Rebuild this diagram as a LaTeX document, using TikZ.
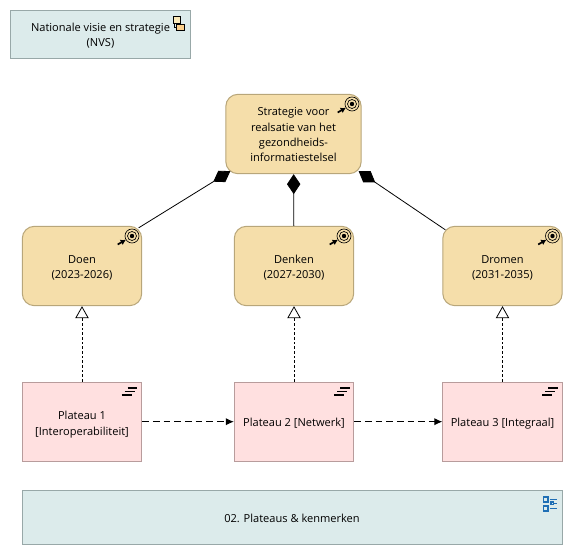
\documentclass[tikz,border=0pt]{standalone}
\usepackage{fontspec}
\setmainfont{Open Sans}
\usetikzlibrary{arrows.meta}
\definecolor{goalfill}{HTML}{F5DEAA}
\definecolor{goalline}{HTML}{B8A67A}
\definecolor{plateaufill}{HTML}{FFE0E0}
\definecolor{plateauline}{HTML}{B89C9C}
\definecolor{viewfill}{HTML}{DCEBEB}
\definecolor{viewline}{HTML}{98A8A8}
\definecolor{iconblue}{HTML}{1F6FB5}
\definecolor{iconyellow}{HTML}{FBE9B8}
\tikzset{
    base/.style={draw, align=center, inner sep=0pt, line width=0.75pt, font=\fontsize{8.3}{11.6}\selectfont},
    goal/.style={base, fill=goalfill, draw=goalline, rounded corners=9pt, minimum width=89.5pt, minimum height=59.5pt},
    plateau/.style={base, fill=plateaufill, draw=plateauline, minimum width=89.5pt, minimum height=59.5pt},
    view/.style={base, fill=viewfill, draw=viewline},
    textdown/.style={execute at begin node={\rule{0pt}{#1}}},
    compo/.style={{Diamond[length=15pt, width=10pt]}-, line width=0.6pt},
    realize/.style={-{Triangle[open, fill=white, length=9pt, width=10pt]}, line width=0.6pt, dash pattern=on 2pt off 1.5pt},
    flow/.style={-{Latex[length=6pt, width=5.5pt]}, line width=0.75pt, dash pattern=on 5pt off 3pt},
    pics/goalicon/.style={code={
        \draw[line width=0.5pt, fill=goalfill] (0,0) circle (7);
        \draw[line width=0.5pt] (0,0) circle (4.5);
        \fill (0,0) circle (2.2);
        \draw[line width=1.3pt, -{Latex[length=4pt, width=4.5pt]}] (-14.3,8.5) -- (-6,3.7);
    }},
    pics/plateauicon/.style={code={
        \draw[line width=1.2pt] (-14,6) -- (-4.5,6) (-17,9.5) -- (-7,9.5) (-20,13) -- (-10,13);
    }},
}
\begin{document}
\begin{tikzpicture}[x=0.75pt, y=-0.75pt]
    \useasboundingbox (0,0) rectangle (572,555);

    % Views
    \node[view, textdown=19.3pt, minimum width=135pt, minimum height=36.3pt] (nvs) at (100.5,34.5) {Nationale visie en strategie\\(NVS)};
    \node[view, textdown=7.5pt, minimum width=405pt, minimum height=40.5pt] (kenmerken) at (292,517.5) {02. Plateaus \& kenmerken};

    % Goals
    \node[goal, textdown=42pt, minimum width=101.5pt] (strategie) at (293.5,134) {Strategie voor\\realsatie van het\\gezondheids-\\informatiestelsel};
    \node[goal, textdown=20.8pt] (doen) at (82,266) {Doen\\(2023-2026)};
    \node[goal, textdown=20.8pt] (denken) at (294,266) {Denken\\(2027-2030)};
    \node[goal, textdown=20.8pt] (dromen) at (502.5,266) {Dromen\\(2031-2035)};

    % Plateaus
    \node[plateau, textdown=22.3pt] (p1) at (82,421.7) {Plateau 1\\{}[Interoperabiliteit]};
    \node[plateau, textdown=8.5pt] (p2) at (294,421.7) {Plateau 2 [Netwerk]};
    \node[plateau, textdown=8.5pt] (p3) at (502.5,421.7) {Plateau 3 [Integraal]};

    % Lijnen
    \draw[compo] ([shift={(5,-3)}]strategie.south west) -- ([shift={(-3.5,2)}]doen.north east);
    \draw[compo] (strategie) -- (denken);
    \draw[compo] ([shift={(-3,-3)}]strategie.south east) -- ([shift={(3,4)}]dromen.north west);
    \draw[realize] (p1) -- (doen);
    \draw[realize] (p2) -- (denken);
    \draw[realize] (p3) -- (dromen);
    \draw[flow] (p1) -- (p2);
    \draw[flow] (p2) -- (p3);

    % Iconen
    \pic at (352,104) {goalicon};
    \pic at (132,236) {goalicon};
    \pic at (344,236) {goalicon};
    \pic at (552.5,236) {goalicon};
    \pic at (141.5,382) {plateauicon};
    \pic at (354,382) {plateauicon};
    \pic at (562,382) {plateauicon};

    % NVS icoon
    \draw[line width=0.4pt, fill=iconyellow] (173,16) rectangle (180,23);
    \draw[line width=0.4pt] (174.5,23) -- (174.5,27) -- (176.5,27);
    \draw[line width=0.4pt, fill=iconyellow!75!orange] (176.5,24) rectangle (184,30);

    % Kenmerken icoon
    \draw[iconblue, line width=0.8pt] (543.5,497) rectangle (548,502) (543.5,506) rectangle (548,511) (551,502) rectangle (553.5,504.5);
    \draw[iconblue, line width=0.7pt] (550,499.5) -- (557,499.5) (554,503.3) -- (557,503.3) (550,508.3) -- (557,508.3);
\end{tikzpicture}
\end{document}
